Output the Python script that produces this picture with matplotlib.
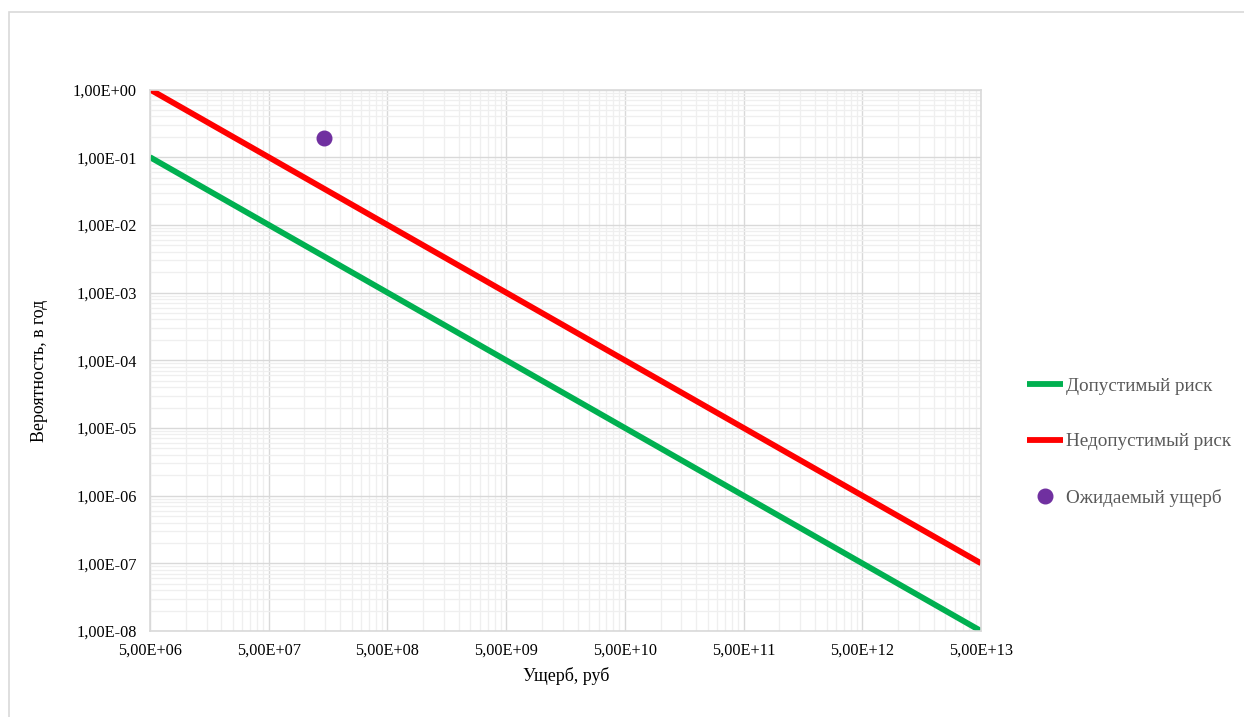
import matplotlib
matplotlib.use('Agg')
import matplotlib.pyplot as plt
from matplotlib.ticker import FixedLocator, FuncFormatter, NullFormatter, LogLocator
from matplotlib.patches import Rectangle
import numpy as np

# damage range (rub) and probability per year
damage = [5e6, 5e13]
allowed_risk = [1e-1, 1e-8]
forbidden_risk = [1e0, 1e-7]
expected_damage = [1.45e8]
expected_prob = [0.19]

x_major = [5e6, 5e7, 5e8, 5e9, 5e10, 5e11, 5e12, 5e13]
y_major = [1e0, 1e-1, 1e-2, 1e-3, 1e-4, 1e-5, 1e-6, 1e-7, 1e-8]

plt.rcParams['font.family'] = ['Liberation Serif', 'DejaVu Serif']

W, H = 1244, 717
fig = plt.figure(figsize=(W / 100, H / 100), dpi=100)

# chart area border (only top and left edges are inside the image)
fig.patches.append(Rectangle((9 / W, -0.1), 1.2, 1 - 12 / H + 0.1, transform=fig.transFigure,
                             fill=False, edgecolor='#d9d9d9', linewidth=1.2))

ax = fig.add_axes([150 / W, 1 - 631 / H, (981 - 150) / W, (631 - 89.5) / H])
ax.set_xscale('log')
ax.set_yscale('log')
ax.set_xlim(5e6, 5e13)
ax.set_ylim(1e-8, 1e0)

# minor lines at 2..9 times each major value
x_minor = [b * k for b in x_major[:-1] for k in range(2, 10)]
ax.xaxis.set_major_locator(FixedLocator(x_major))
ax.xaxis.set_minor_locator(FixedLocator(x_minor))
ax.yaxis.set_major_locator(FixedLocator(y_major))
ax.yaxis.set_minor_locator(LogLocator(base=10, subs=np.arange(2, 10)))


def excel_fmt(v, pos):
    s = '{:.2E}'.format(v)
    return s.replace('.', ',')


ax.xaxis.set_major_formatter(FuncFormatter(excel_fmt))
ax.yaxis.set_major_formatter(FuncFormatter(excel_fmt))
ax.xaxis.set_minor_formatter(NullFormatter())
ax.yaxis.set_minor_formatter(NullFormatter())

ax.grid(which='major', color='#d9d9d9', linewidth=1.0)
ax.grid(which='minor', color='#efefef', linewidth=0.9)
ax.set_axisbelow(True)
for sp in ax.spines.values():
    sp.set_color('#d9d9d9')
    sp.set_linewidth(1.2)
ax.tick_params(which='both', length=0, labelsize=11.7, colors='black')
ax.tick_params(axis='x', pad=8.5)
ax.tick_params(axis='y', pad=9.5)

ax.plot(damage, allowed_risk, color='#00b050', linewidth=4.2, solid_capstyle='butt',
        label='Допустимый риск')
ax.plot(damage, forbidden_risk, color='#ff0000', linewidth=4.2, solid_capstyle='butt',
        label='Недопустимый риск')
ax.plot(expected_damage, expected_prob, 'o', color='#7030a0', markersize=10.5,
        linestyle='none', label='Ожидаемый ущерб', clip_on=False)

fig.text(40 / W, 1 - 371 / H, 'Вероятность, в год', rotation=90, ha='center', va='center',
         fontsize=12.9, color='black')
fig.text(566 / W, 1 - 676 / H, 'Ущерб, руб', ha='center', va='center',
         fontsize=12.9, color='black')

leg = fig.legend(loc='center left', bbox_to_anchor=(1017 / W, 1 - 442 / H), frameon=False,
                 fontsize=13.8, labelspacing=2.0, handlelength=1.9, handletextpad=0.15,
                 borderpad=0)
for t in leg.get_texts():
    t.set_color('#595959')

fig.savefig('out.png', dpi=100)
